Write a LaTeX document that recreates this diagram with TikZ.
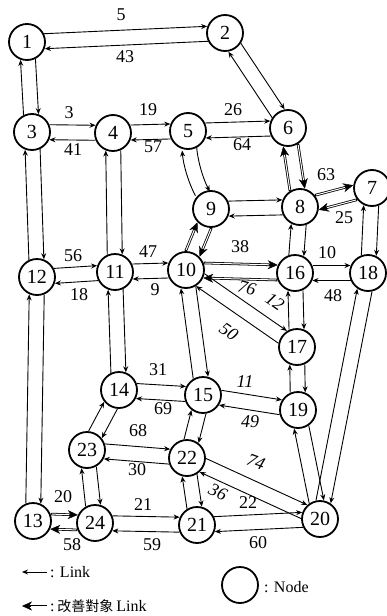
\documentclass[tikz,border=0pt]{standalone}
\usepackage{fontspec}
\setmainfont{Liberation Serif}
\newfontfamily\cjkfont{Noto Sans CJK TC}
\usetikzlibrary{calc,arrows.meta}
\newcommand\offd{7.5pt}
\newcommand\lk[3][]{\draw[link,#1] ($(#2)!\offd!90:(#3)$) -- ($(#3)!\offd!-90:(#2)$);}
\newcommand\lkb[4][]{\draw[link,#1] ($(#2)!\offd!90:(#3)$) to[#4] ($(#3)!\offd!-90:(#2)$);}
\newcommand\lki[2]{%
  \draw[impo,shorten <=17.5pt,shorten >=17.5pt] ($(#1)!\offd!90:(#2)$) -- ($(#2)!\offd!-90:(#1)$);
  \draw[impi,shorten <=18.5pt,shorten >=26pt] ($(#1)!\offd!90:(#2)$) -- ($(#2)!\offd!-90:(#1)$);}
\begin{document}
\begin{tikzpicture}[x=1pt,y=1pt,
  nd/.style={circle,draw,line width=1.8pt,minimum size=36pt,inner sep=0pt,font=\fontsize{20}{20}\selectfont},
  link/.style={line width=0.9pt,-{Stealth[length=6pt,width=5pt]},shorten <=17.5pt,shorten >=17.5pt},
  impo/.style={line width=2.6pt,-{Stealth[length=10pt,width=9pt,line width=0.4pt]}},
  impi/.style={white,line width=1pt},
  lab/.style={font=\fontsize{18}{18}\selectfont,inner sep=0pt},
  ilab/.style={font=\fontsize{18}{18}\selectfont\itshape,inner sep=0pt}]
\useasboundingbox (0,0) rectangle (386,-616);
\node[nd] (n1) at (27,-42) {1};
\node[nd] (n2) at (225,-33) {2};
\node[nd] (n3) at (32,-132) {3};
\node[nd] (n4) at (113,-133) {4};
\node[nd] (n5) at (188,-131) {5};
\node[nd] (n6) at (288,-128) {6};
\node[nd] (n7) at (372,-188) {7};
\node[nd] (n8) at (300,-207) {8};
\node[nd] (n9) at (211,-209) {9};
\node[nd] (n10) at (186,-270) {10};
\node[nd] (n11) at (115,-272) {11};
\node[nd] (n12) at (37,-277) {12};
\node[nd] (n13) at (33,-521) {13};
\node[nd] (n14) at (119,-390) {14};
\node[nd] (n15) at (203,-395) {15};
\node[nd] (n16) at (295,-273) {16};
\node[nd] (n17) at (297,-347) {17};
\node[nd] (n18) at (368,-273) {18};
\node[nd] (n19) at (298,-410) {19};
\node[nd] (n20) at (320,-519) {20};
\node[nd] (n21) at (197,-525) {21};
\node[nd] (n22) at (187,-458) {22};
\node[nd] (n23) at (87,-450) {23};
\node[nd] (n24) at (95,-523) {24};
% ordinary links (each pair both directions)
\lk{n1}{n2}\lk{n2}{n1}
\lk{n1}{n3}\lk{n3}{n1}
\lk{n3}{n4}\lk{n4}{n3}
\lk{n4}{n5}\lk{n5}{n4}
\lk{n5}{n6}\lk{n6}{n5}
\lk{n2}{n6}\lk{n6}{n2}
\lkb{n5}{n9}{bend right=12}\lkb{n9}{n5}{bend left=12}
\lk{n9}{n8}\lk{n8}{n9}
\lk{n7}{n18}\lk{n18}{n7}
\lk{n8}{n16}\lk{n16}{n8}
\lk{n16}{n18}\lk{n18}{n16}
\lk{n10}{n17}\lk{n17}{n10}
\lk{n16}{n17}\lk{n17}{n16}
\lk{n17}{n19}\lk{n19}{n17}
\lk{n18}{n20}\lk{n20}{n18}
\lk{n19}{n20}\lk{n20}{n19}
\lk{n3}{n12}\lk{n12}{n3}
\lk{n12}{n11}\lk{n11}{n12}
\lk{n11}{n10}\lk{n10}{n11}
\lk{n4}{n11}\lk{n11}{n4}
\lk{n11}{n14}\lk{n14}{n11}
\lk{n12}{n13}\lk{n13}{n12}
\lk{n10}{n15}\lk{n15}{n10}
\lk{n14}{n15}\lk{n15}{n14}
\lk{n15}{n19}\lk{n19}{n15}
\lk{n23}{n14}\lk{n14}{n23}
\lk{n23}{n22}\lk{n22}{n23}
\lk{n15}{n22}\lk{n22}{n15}
\lk{n22}{n20}\lk{n20}{n22}
\lk{n21}{n20}\lk{n20}{n21}
\lk{n22}{n21}\lk{n21}{n22}
\lk{n23}{n24}\lk{n24}{n23}
\lk{n24}{n21}\lk{n21}{n24}
% improvement links
\lki{n6}{n8}\lki{n8}{n6}
\lki{n8}{n7}\lki{n7}{n8}
\lki{n9}{n10}\lki{n10}{n9}
\lki{n10}{n16}\lki{n16}{n10}
\lki{n13}{n24}\lki{n24}{n13}
% labels
\node[lab] (l5) at (121,-15) {5};
\node[lab] (l43) at (125,-57) {43};
\node[lab] (l3) at (69,-113) {3};
\node[lab] (l41) at (73,-150) {41};
\node[lab] (l19) at (148,-110) {19};
\node[lab] (l57) at (153,-147) {57};
\node[lab] (l26) at (233,-110) {26};
\node[lab] (l64) at (242,-145) {64};
\node[lab] (l63) at (326,-175) {63};
\node[lab] (l25) at (344,-218) {25};
\node[lab] (l38) at (240,-247) {38};
\node[lab] (l10) at (327,-253) {10};
\node[ilab,rotate=-15] (l76) at (247,-288) {76};
\node[ilab,rotate=-35] (l12) at (275,-302) {12};
\node[lab] (l48) at (333,-296) {48};
\node[ilab,rotate=-35] (l50) at (229,-332) {50};
\node[lab] (l56) at (73,-256) {56};
\node[lab] (l18) at (79,-295) {18};
\node[lab] (l47) at (148,-252) {47};
\node[lab] (l9) at (155,-290) {9};
\node[lab] (l31) at (158,-370) {31};
\node[lab] (l69) at (163,-409) {69};
\node[ilab] (l11) at (245,-382) {11};
\node[ilab] (l49) at (250,-422) {49};
\node[lab] (l68) at (138,-431) {68};
\node[lab] (l30) at (137,-470) {30};
\node[ilab,rotate=-20] (l74) at (256,-462) {74};
\node[ilab,rotate=-25] (l36) at (218,-492) {36};
\node[lab] (l22) at (248,-503) {22};
\node[lab] (l20) at (63,-497) {20};
\node[lab] (l21) at (143,-505) {21};
\node[lab] (l58) at (72,-545) {58};
\node[lab] (l59) at (152,-545) {59};
\node[lab] (l60) at (258,-543) {60};
% legend
\coordinate (la1) at (47,-572);
\coordinate (la2) at (22,-572);
\draw[line width=0.9pt,-{Stealth[length=6pt,width=5pt]}] (la1) -- (la2);
\node[anchor=west,font=\fontsize{16}{16}\selectfont,inner sep=0pt] (lt1) at (50,-572) {: Link};
\coordinate (lb1) at (47,-606);
\coordinate (lb2) at (22,-606);
\coordinate (lb3) at (31,-606);
\draw[impo] (lb1) -- (lb2);
\draw[impi] (lb1) -- (lb3);
\node[anchor=west,inner sep=0pt] (lt2) at (50,-606) {\fontsize{16}{16}\selectfont:\,\cjkfont\fontsize{14}{14}\selectfont 改善對象 \rmfamily\fontsize{16}{16}\selectfont Link};
\node[nd] (lc) at (240,-585) {};
\node[anchor=west,font=\fontsize{16}{16}\selectfont,inner sep=0pt] (lt3) at (264,-587) {: Node};
\end{tikzpicture}
\end{document}
